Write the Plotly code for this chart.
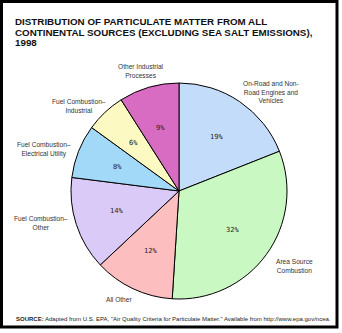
import math
import plotly.graph_objects as go

# Particulate matter sources, 1998 (percent of total), clockwise from 12 o'clock
sources = [
    "On-Road and Non-Road Engines and Vehicles",
    "Area Source Combustion",
    "All Other",
    "Fuel Combustion–Other",
    "Fuel Combustion–Electrical Utility",
    "Fuel Combustion–Industrial",
    "Other Industrial Processes",
]
shares = [19, 32, 12, 14, 8, 6, 9]
colors = ["#c2dcfa", "#caf8c2", "#fcbebe", "#dacaf8", "#a2d8f8", "#fcfac2", "#d86cc2"]

# Outside label text (line-broken as printed) and the centre of each text block in pixels
label_lines = [
    ["On-Road and Non-", "Road Engines and", "Vehicles"],
    ["Area Source", "Combustion"],
    ["All Other"],
    ["Fuel Combustion–", "Other"],
    ["Fuel Combustion–", "Electrical Utility"],
    ["Fuel Combustion–", "Industrial"],
    ["Other Industrial", "Processes"],
]
label_pos = [(271, 92), (294, 266), (119, 299), (41, 223), (44, 149), (79, 106), (141, 71)]

title_lines = [
    "DISTRIBUTION OF PARTICULATE MATTER FROM ALL",
    "CONTINENTAL SOURCES (EXCLUDING SEA SALT EMISSIONS),",
    "1998",
]

W, H = 342, 333
CX, CY, R = 179, 191, 108

fig = go.Figure()
fig.add_trace(go.Pie(
    labels=sources,
    values=shares,
    sort=False,
    direction="clockwise",
    rotation=0,
    textinfo="none",
    hoverinfo="label+percent",
    marker=dict(colors=colors, line=dict(color="#000000", width=1)),
    domain=dict(x=[(CX - R) / W, (CX + R) / W], y=[(H - CY - R) / H, (H - CY + R) / H]),
    showlegend=False,
))

ann = []


def px(x, y):
    return x / W, 1 - y / H


# Title, one annotation per line
for i, line in enumerate(title_lines):
    x, y = px(13, 14 + i * 10.6)
    ann.append(dict(x=x, y=y, xref="paper", yref="paper", xanchor="left", yanchor="top",
                    text=line, showarrow=False,
                    font=dict(family="Liberation Sans Narrow, Arial Narrow, Liberation Sans",
                              size=9.8, color="#111111", weight="bold")))

# Source labels around the pie
for lines, (lx, ly) in zip(label_lines, label_pos):
    x, y = px(lx, ly)
    ann.append(dict(x=x, y=y, xref="paper", yref="paper", xanchor="center", yanchor="middle",
                    text="<br>".join(lines), showarrow=False, align="center",
                    font=dict(family="Liberation Sans", size=6.6, color="#333333")))

# Percent values placed at each slice's mid-angle
total = sum(shares)
acc = 0
for v in shares:
    mid = (acc + v / 2) / total * 2 * math.pi
    acc += v
    x, y = px(CX + 0.61 * R * math.sin(mid), CY - 0.61 * R * math.cos(mid))
    ann.append(dict(x=x, y=y, xref="paper", yref="paper", xanchor="center", yanchor="middle",
                    text=f"{v}%", showarrow=False,
                    font=dict(family="DejaVu Sans Mono, Liberation Mono", size=7, color="#222222")))

# Source note
x, y = px(14, 319)
ann.append(dict(x=x, y=y, xref="paper", yref="paper", xanchor="left", yanchor="middle",
                text="<b>SOURCE:</b> Adapted from U.S. EPA, \"Air Quality Criteria for Particulate Matter.\" "
                     "Available from http://www.epa.gov/ncea.",
                showarrow=False,
                font=dict(family="Liberation Sans", size=6, color="#222222")))

fig.update_layout(
    width=W, height=H,
    margin=dict(l=0, r=0, t=0, b=0),
    paper_bgcolor="#ffffff",
    plot_bgcolor="#ffffff",
    annotations=ann,
    shapes=[dict(type="rect", xref="paper", yref="paper",
                 x0=1.5 / W, x1=337 / W, y0=1 - 327 / H, y1=1 - 1.5 / H,
                 line=dict(color="#000000", width=3))],
)

fig.write_html("out.html")
